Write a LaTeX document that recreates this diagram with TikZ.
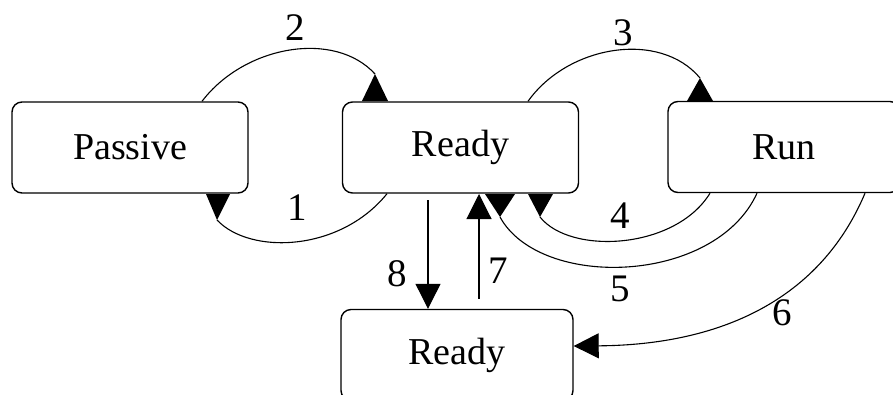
\documentclass[tikz,border=0pt]{standalone}
\usepackage{fontspec}
\setmainfont{Liberation Serif}
\usetikzlibrary{arrows.meta}
\begin{document}
\begin{tikzpicture}[x=1pt,y=-1pt,
  state/.style={draw, line width=1.4pt, rounded corners=10pt, minimum width=236pt,
    minimum height=91pt, inner sep=0pt, font=\fontsize{38}{40}\selectfont},
  lab/.style={font=\fontsize{39}{40}\selectfont, inner sep=0pt},
  conn/.style={line width=1.1pt},
  arr/.style={conn, -{Triangle[length=25pt,width=25pt]}},
]
\useasboundingbox (0,0) rectangle (893,394);
\clip (0,0) rectangle (893,394);
\fill[white] (0,0) rectangle (893,394);

% states
\node[state] (passive) at (130,147.5) {Passive};
\node[state] (ready) at (460.5,147.5) {Ready};
\node[state, minimum width=232pt] (run) at (784,147) {Run};
\node[state, minimum width=232pt] (ready2) at (457,355) {Ready};

% head points (tip of the line, apex of the triangle)
\coordinate (h2) at (375,74);
\coordinate (h3) at (700,78);
\coordinate (h1) at (217,220);
\coordinate (h4) at (540,217);
\coordinate (h5) at (500,217);

% 2: Passive -> Ready
\draw[conn] ([xshift=72pt]passive.north) .. controls (245,45) and (335,30) .. (h2);
\fill (h2) -- ++(-13,27) -- ++(26,0) -- cycle;
% 3: Ready -> Run
\draw[conn] ([xshift=67.5pt]ready.north) .. controls (568,45) and (660,30) .. (h3);
\fill (h3) -- ++(-13,23) -- ++(26,0) -- cycle;
% 1: Ready -> Passive
\draw[conn] ([xshift=-73.5pt]ready.south) .. controls (340,252) and (250,255) .. (h1);
\fill (h1) -- ++(-11,-26) -- ++(24,0) -- cycle;
% 4: Run -> Ready
\draw[conn] ([xshift=-74pt]run.south) .. controls (675,250) and (570,255) .. (h4);
\fill (h4) -- ++(-12,-23) -- ++(25,0) -- cycle;
% 5: Run -> Ready
\draw[conn] ([xshift=-27pt]run.south) .. controls (715,285) and (540,290) .. (h5);
\fill (h5) -- ++(-15,-23) -- ++(30,0) -- cycle;
% 6: Run -> Ready (bottom)
\draw[arr] ([xshift=81pt]run.south) .. controls (820,300) and (720,345) .. (ready2.east |- 0,346);
% 7: Ready (bottom) -> Ready
\draw[arr] (ready2.north -| 479,0) ++(0,-10) -- (479,194);
% 8: Ready -> Ready (bottom)
\draw[arr] (428,200) -- (ready2.north -| 428,0);

% labels
\node[lab] (l2) at (295,28) {2};
\node[lab] (l3) at (623,33) {3};
\node[lab] (l1) at (297,208) {1};
\node[lab] (l4) at (620,216) {4};
\node[lab] (l5) at (620,289) {5};
\node[lab] (l6) at (782,313) {6};
\node[lab] (l7) at (498,271) {7};
\node[lab] (l8) at (397,274) {8};
\end{tikzpicture}
\end{document}
